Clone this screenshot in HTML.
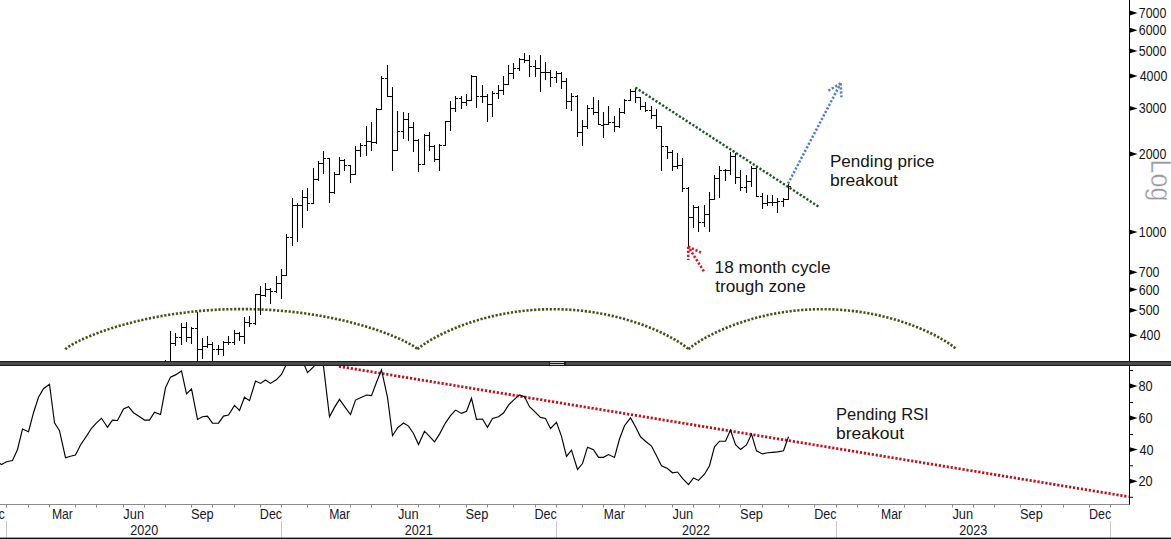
<!DOCTYPE html><html><head><meta charset="utf-8"><style>
html,body{margin:0;padding:0;background:#fff;}
body{width:1171px;height:539px;overflow:hidden;}
svg{display:block;font-family:"Liberation Sans",sans-serif;}
</style></head><body>
<svg width="1171" height="539" viewBox="0 0 1171 539">
<defs><clipPath id="cp"><rect x="0" y="0" width="1129" height="361"/></clipPath>
<clipPath id="cr"><rect x="0" y="366" width="1129" height="138.5"/></clipPath></defs>
<rect width="1171" height="539" fill="#fff"/>
<g clip-path="url(#cp)" fill="none" stroke="#474f12" stroke-width="2.6" stroke-dasharray="2.2 1.7">
<path d="M65.40 349.40L65.43 349.34L65.54 349.20L65.71 349.01L65.94 348.78L66.25 348.51L66.62 348.20L67.06 347.85L67.57 347.48L68.14 347.07L68.78 346.64L69.49 346.18L70.27 345.69L71.11 345.18L72.01 344.65L72.98 344.10L74.02 343.53L75.12 342.94L76.28 342.33L77.51 341.70L78.80 341.06L80.16 340.40L81.58 339.74L83.05 339.05L84.59 338.36L86.19 337.66L87.85 336.95L89.57 336.23L91.35 335.50L93.19 334.77L95.08 334.03L97.03 333.29L99.03 332.54L101.09 331.79L103.21 331.04L105.37 330.29L107.59 329.54L109.86 328.80L112.19 328.05L114.56 327.31L116.98 326.57L119.45 325.84L121.96 325.11L124.53 324.39L127.13 323.68L129.78 322.98L132.48 322.29L135.21 321.60L137.99 320.93L140.81 320.27L143.66 319.62L146.56 318.99L149.49 318.37L152.45 317.77L155.45 317.18L158.49 316.60L161.55 316.05L164.65 315.51L167.77 314.99L170.93 314.49L174.11 314.01L177.32 313.55L180.55 313.10L183.80 312.68L187.08 312.28L190.38 311.91L193.70 311.55L197.04 311.22L200.39 310.91L203.76 310.62L207.14 310.36L210.54 310.12L213.95 309.91L217.37 309.72L220.80 309.56L224.24 309.42L227.68 309.30L231.13 309.21L234.59 309.15L238.04 309.11L241.50 309.10L244.96 309.11L248.41 309.15L251.87 309.21L255.32 309.30L258.76 309.42L262.20 309.56L265.63 309.72L269.05 309.91L272.46 310.12L275.86 310.36L279.24 310.62L282.61 310.91L285.96 311.22L289.30 311.55L292.62 311.91L295.92 312.28L299.20 312.68L302.45 313.10L305.68 313.55L308.89 314.01L312.07 314.49L315.23 314.99L318.35 315.51L321.45 316.05L324.51 316.60L327.55 317.18L330.55 317.77L333.51 318.37L336.44 318.99L339.34 319.62L342.19 320.27L345.01 320.93L347.79 321.60L350.52 322.29L353.22 322.98L355.87 323.68L358.47 324.39L361.04 325.11L363.55 325.84L366.02 326.57L368.44 327.31L370.81 328.05L373.14 328.80L375.41 329.54L377.63 330.29L379.79 331.04L381.91 331.79L383.97 332.54L385.97 333.29L387.92 334.03L389.81 334.77L391.65 335.50L393.43 336.23L395.15 336.95L396.81 337.66L398.41 338.36L399.95 339.05L401.42 339.74L402.84 340.40L404.20 341.06L405.49 341.70L406.72 342.33L407.88 342.94L408.98 343.53L410.02 344.10L410.99 344.65L411.89 345.18L412.73 345.69L413.51 346.18L414.22 346.64L414.86 347.07L415.43 347.48L415.94 347.85L416.38 348.20L416.75 348.51L417.06 348.78L417.29 349.01L417.46 349.20L417.57 349.34L417.60 349.40"/>
<path d="M417.60 349.40L417.63 349.35L417.70 349.25L417.84 349.09L418.02 348.90L418.25 348.66L418.54 348.39L418.88 348.08L419.27 347.75L419.71 347.38L420.20 346.98L420.75 346.56L421.34 346.11L421.99 345.63L422.69 345.13L423.43 344.61L424.23 344.07L425.08 343.50L425.98 342.92L426.92 342.32L427.91 341.70L428.96 341.06L430.05 340.41L431.18 339.74L432.37 339.06L433.60 338.37L434.88 337.67L436.20 336.96L437.57 336.24L438.98 335.51L440.44 334.77L441.94 334.03L443.48 333.28L445.06 332.53L446.69 331.78L448.36 331.02L450.06 330.27L451.81 329.51L453.60 328.75L455.42 328.00L457.29 327.25L459.19 326.51L461.12 325.77L463.09 325.03L465.10 324.30L467.14 323.58L469.21 322.87L471.32 322.17L473.46 321.48L475.62 320.80L477.82 320.13L480.05 319.48L482.30 318.84L484.58 318.22L486.89 317.61L489.23 317.01L491.58 316.44L493.97 315.88L496.37 315.34L498.80 314.82L501.25 314.32L503.71 313.84L506.20 313.38L508.71 312.94L511.23 312.52L513.77 312.13L516.32 311.76L518.89 311.41L521.47 311.09L524.06 310.79L526.67 310.52L529.28 310.27L531.90 310.05L534.53 309.85L537.17 309.68L539.82 309.53L542.47 309.41L545.12 309.32L547.78 309.25L550.44 309.21L553.10 309.20L555.76 309.21L558.42 309.25L561.08 309.32L563.73 309.41L566.38 309.53L569.03 309.68L571.67 309.85L574.30 310.05L576.92 310.27L579.53 310.52L582.14 310.79L584.73 311.09L587.31 311.41L589.88 311.76L592.43 312.13L594.97 312.52L597.49 312.94L600.00 313.38L602.49 313.84L604.95 314.32L607.40 314.82L609.83 315.34L612.23 315.88L614.62 316.44L616.97 317.01L619.31 317.61L621.62 318.22L623.90 318.84L626.15 319.48L628.38 320.13L630.58 320.80L632.74 321.48L634.88 322.17L636.99 322.87L639.06 323.58L641.10 324.30L643.11 325.03L645.08 325.77L647.01 326.51L648.91 327.25L650.78 328.00L652.60 328.75L654.39 329.51L656.14 330.27L657.84 331.02L659.51 331.78L661.14 332.53L662.72 333.28L664.26 334.03L665.76 334.77L667.22 335.51L668.63 336.24L670.00 336.96L671.32 337.67L672.60 338.37L673.83 339.06L675.02 339.74L676.15 340.41L677.24 341.06L678.29 341.70L679.28 342.32L680.22 342.92L681.12 343.50L681.97 344.07L682.77 344.61L683.51 345.13L684.21 345.63L684.86 346.11L685.45 346.56L686.00 346.98L686.49 347.38L686.93 347.75L687.32 348.08L687.66 348.39L687.95 348.66L688.18 348.90L688.36 349.09L688.50 349.25L688.57 349.35L688.60 349.40"/>
<path d="M688.60 349.40L688.63 349.35L688.70 349.25L688.83 349.09L689.01 348.90L689.24 348.66L689.53 348.39L689.86 348.08L690.25 347.75L690.69 347.38L691.17 346.98L691.71 346.56L692.30 346.11L692.94 345.63L693.63 345.13L694.37 344.61L695.15 344.07L695.99 343.50L696.88 342.92L697.81 342.32L698.79 341.70L699.82 341.06L700.90 340.41L702.02 339.74L703.19 339.06L704.41 338.37L705.67 337.67L706.98 336.96L708.33 336.24L709.73 335.51L711.17 334.77L712.65 334.03L714.17 333.28L715.74 332.53L717.35 331.78L718.99 331.02L720.68 330.27L722.41 329.51L724.17 328.75L725.98 328.00L727.82 327.25L729.70 326.51L731.61 325.77L733.56 325.03L735.54 324.30L737.55 323.58L739.60 322.87L741.68 322.17L743.80 321.48L745.94 320.80L748.11 320.13L750.31 319.48L752.54 318.84L754.79 318.22L757.07 317.61L759.38 317.01L761.71 316.44L764.06 315.88L766.44 315.34L768.84 314.82L771.26 314.32L773.70 313.84L776.15 313.38L778.63 312.94L781.12 312.52L783.63 312.13L786.15 311.76L788.69 311.41L791.24 311.09L793.80 310.79L796.38 310.52L798.96 310.27L801.55 310.05L804.15 309.85L806.76 309.68L809.38 309.53L811.99 309.41L814.62 309.32L817.24 309.25L819.87 309.21L822.50 309.20L825.13 309.21L827.76 309.25L830.38 309.32L833.01 309.41L835.62 309.53L838.24 309.68L840.85 309.85L843.45 310.05L846.04 310.27L848.62 310.52L851.20 310.79L853.76 311.09L856.31 311.41L858.85 311.76L861.37 312.13L863.88 312.52L866.37 312.94L868.85 313.38L871.30 313.84L873.74 314.32L876.16 314.82L878.56 315.34L880.94 315.88L883.29 316.44L885.62 317.01L887.93 317.61L890.21 318.22L892.46 318.84L894.69 319.48L896.89 320.13L899.06 320.80L901.20 321.48L903.32 322.17L905.40 322.87L907.45 323.58L909.46 324.30L911.44 325.03L913.39 325.77L915.30 326.51L917.18 327.25L919.02 328.00L920.83 328.75L922.59 329.51L924.32 330.27L926.01 331.02L927.65 331.78L929.26 332.53L930.83 333.28L932.35 334.03L933.83 334.77L935.27 335.51L936.67 336.24L938.02 336.96L939.33 337.67L940.59 338.37L941.81 339.06L942.98 339.74L944.10 340.41L945.18 341.06L946.21 341.70L947.19 342.32L948.12 342.92L949.01 343.50L949.85 344.07L950.63 344.61L951.37 345.13L952.06 345.63L952.70 346.11L953.29 346.56L953.83 346.98L954.31 347.38L954.75 347.75L955.14 348.08L955.47 348.39L955.76 348.66L955.99 348.90L956.17 349.09L956.30 349.25L956.37 349.35L956.40 349.40"/>
</g>
<g clip-path="url(#cp)"><path d="M165.5 360V371M163 370.5H165M166 370.5H168M170.5 331V371M168 370.5H170M171 343.5H173M175.5 333V346M173 343.5H175M176 337.5H178M181.5 323V345M179 337.5H181M182 327.5H184M186.5 322V342M184 327.5H186M187 337.5H189M191.5 327V344M189 337.5H191M192 328.5H194M197.5 312V371M195 328.5H197M198 349.5H200M202.5 338V359M200 349.5H202M203 346.5H205M207.5 336V348M205 346.5H207M208 344.5H210M212.5 342V371M210 344.5H212M213 349.5H215M218.5 345V355M216 349.5H218M219 349.5H221M223.5 341V356M221 349.5H223M224 342.5H226M228.5 336V345M226 342.5H228M229 342.5H231M234.5 330V345M232 342.5H234M235 333.5H237M239.5 332V341M237 333.5H239M240 336.5H242M244.5 317V344M242 336.5H244M245 322.5H247M249.5 316V327M247 322.5H249M250 323.5H252M255.5 294V325M253 323.5H255M256 294.5H258M260.5 286V315M258 294.5H260M261 295.5H263M265.5 283V297M263 295.5H265M266 289.5H268M270.5 288V304M268 289.5H270M271 291.5H273M276.5 276V293M274 291.5H276M277 283.5H279M281.5 269V299M279 283.5H281M282 275.5H284M286.5 234V276M284 275.5H286M287 237.5H289M292.5 198V246M290 237.5H292M293 205.5H295M297.5 203V242M295 205.5H297M298 205.5H300M302.5 190V228M300 205.5H302M303 197.5H305M307.5 188V211M305 197.5H307M308 203.5H310M313.5 168V204M311 203.5H313M314 179.5H316M318.5 161V181M316 179.5H318M319 163.5H321M323.5 151V174M321 163.5H323M324 158.5H326M329.5 158V203M327 158.5H329M330 192.5H332M334.5 172V194M332 192.5H334M335 174.5H337M339.5 157V175M337 174.5H339M340 160.5H342M344.5 159V171M342 160.5H344M345 165.5H347M350.5 165V183M348 165.5H350M351 174.5H353M355.5 146V175M353 174.5H355M356 150.5H358M360.5 143V157M358 150.5H360M361 145.5H363M366.5 126V156M364 145.5H366M367 141.5H369M371.5 122V151M369 141.5H371M372 142.5H374M376.5 108V144M374 142.5H376M377 109.5H379M381.5 76V110M379 109.5H381M382 78.5H384M387.5 65V97M385 78.5H387M388 96.5H390M392.5 87V171M390 96.5H392M393 150.5H395M397.5 111V151M395 150.5H397M398 131.5H400M403.5 112V139M401 131.5H403M404 119.5H406M408.5 113V141M406 119.5H408M409 127.5H411M413.5 122V152M411 127.5H413M414 140.5H416M418.5 139V172M416 140.5H418M419 164.5H421M424.5 134V165M422 164.5H424M425 135.5H427M429.5 132V151M427 135.5H429M430 146.5H432M434.5 145V162M432 146.5H434M435 159.5H437M439.5 144V171M437 159.5H439M440 145.5H442M445.5 121V146M443 145.5H445M446 121.5H448M450.5 101V131M448 121.5H450M451 108.5H453M455.5 96V112M453 108.5H455M456 98.5H458M461.5 96V109M459 98.5H461M462 102.5H464M466.5 94V106M464 102.5H466M467 100.5H469M471.5 75V101M469 100.5H471M472 76.5H474M476.5 76V108M474 76.5H476M477 96.5H479M482.5 85V103M480 96.5H482M483 96.5H485M487.5 94V122M485 96.5H487M488 104.5H490M492.5 91V117M490 104.5H492M493 93.5H495M498.5 85V99M496 93.5H498M499 90.5H501M503.5 76V95M501 90.5H503M504 84.5H506M508.5 65V85M506 84.5H508M509 73.5H511M513.5 63V79M511 73.5H513M514 68.5H516M519.5 58V71M517 68.5H519M520 59.5H522M524.5 53V63M522 59.5H524M525 60.5H527M529.5 55V77M527 60.5H529M530 66.5H532M535.5 60V77M533 66.5H535M536 68.5H538M540.5 55V92M538 68.5H540M541 72.5H543M545.5 62V80M543 72.5H545M546 72.5H548M550.5 70V87M548 72.5H550M551 77.5H553M556.5 71V83M554 77.5H556M557 73.5H559M561.5 72V89M559 73.5H561M562 81.5H564M566.5 78V109M564 81.5H566M567 101.5H569M571.5 93V111M569 101.5H571M572 96.5H574M577.5 95V137M575 96.5H577M578 132.5H580M582.5 120V146M580 132.5H582M583 126.5H585M587.5 105V129M585 126.5H587M588 108.5H590M593.5 97V115M591 108.5H593M594 112.5H596M598.5 100V125M596 112.5H598M599 124.5H601M603.5 112V138M601 125.5H603M604 124.5H606M608.5 106V125M606 124.5H608M609 122.5H611M614.5 116V132M612 122.5H614M615 126.5H617M619.5 108V128M617 126.5H619M620 112.5H622M624.5 99V114M622 112.5H624M625 100.5H627M630.5 89V101M628 100.5H630M631 91.5H633M635.5 88V103M633 91.5H635M636 97.5H638M640.5 97V110M638 97.5H640M641 106.5H643M645.5 102V112M643 106.5H645M646 110.5H648M651.5 106V119M649 110.5H651M652 115.5H654M656.5 109V129M654 115.5H656M657 126.5H659M661.5 126V171M659 126.5H661M662 146.5H664M667.5 146V159M665 146.5H667M668 152.5H670M672.5 150V171M670 152.5H672M673 166.5H675M677.5 153V169M675 166.5H677M678 165.5H680M682.5 158V192M680 165.5H682M683 188.5H685M688.5 187V247M686 188.5H688M689 217.5H691M693.5 205V228M691 217.5H693M694 207.5H696M698.5 206V232M696 207.5H698M699 222.5H701M704.5 205V227M702 222.5H704M705 214.5H707M709.5 192V232M707 214.5H709M710 199.5H712M714.5 175V200M712 199.5H714M715 178.5H717M719.5 166V198M717 178.5H719M720 170.5H722M725.5 169V181M723 170.5H725M726 170.5H728M730.5 152V175M728 170.5H730M731 156.5H733M735.5 153V184M733 156.5H735M736 177.5H738M740.5 170V191M738 177.5H740M741 187.5H743M746.5 175V193M744 187.5H746M747 181.5H749M751.5 166V187M749 181.5H751M752 168.5H754M756.5 167V197M754 168.5H756M757 196.5H759M762.5 193V209M760 196.5H762M763 203.5H765M767.5 195V206M765 203.5H767M768 202.5H770M772.5 195V206M770 202.5H772M773 202.5H775M777.5 198V213M775 202.5H777M778 201.5H780M783.5 198V207M781 201.5H783M784 199.5H786M788.5 184V200M786 199.5H788M789 186.5H791" fill="none" stroke="#000" stroke-width="1.05"/></g>
<path d="M635.4 87.6L819.7 207.4" fill="none" stroke="#145a1c" stroke-width="2.4" stroke-dasharray="2.2 1.8"/>
<g fill="none" stroke="#4f7bd0" stroke-width="2.5" stroke-dasharray="2.2 1.8">
<path d="M788 183.7L840.6 83.4"/><path d="M840.6 83.4L828.4 90.6"/><path d="M840.6 83.4L841.4 97.3"/>
</g>
<g fill="none" stroke="#dc1424" stroke-width="2.6" stroke-dasharray="2.2 1.8">
<path d="M703.8 271.3L688.2 246.7"/><path d="M688.2 246.7L688.2 260"/><path d="M688.2 246.7L700.9 252.5"/>
</g>
<g font-size="16.5" fill="#141414">
<text transform="translate(829.96 167.00) scale(1.0364 1.05)">Pending price</text>
<text transform="translate(830.04 186.00) scale(1.0587 1.05)">breakout</text>
<text transform="translate(714.55 273.00) scale(1.0459 1.05)">18 month cycle</text>
<text transform="translate(715.20 291.60) scale(1.0391 1.05)">trough zone</text>
<text transform="translate(836.00 420.00) scale(1.0011 1.05)">Pending RSI</text>
<text transform="translate(835.94 438.90) scale(1.0635 1.05)">breakout</text>
</g>
<path d="M1129.5 0V361" stroke="#000" stroke-width="1"/>
<g fill="#000">
<path d="M1129 10.3 L1137.6 13 L1129 15.7 Z"/>
<path d="M1129 27.6 L1137.6 30.3 L1129 33 Z"/>
<path d="M1129 48.2 L1137.6 50.9 L1129 53.6 Z"/>
<path d="M1129 73.3 L1137.6 76 L1129 78.7 Z"/>
<path d="M1129 105.7 L1137.6 108.4 L1129 111.1 Z"/>
<path d="M1129 151.3 L1137.6 154 L1129 156.7 Z"/>
<path d="M1129 229.4 L1137.6 232.1 L1129 234.8 Z"/>
<path d="M1129 269.6 L1137.6 272.3 L1129 275 Z"/>
<path d="M1129 286.9 L1137.6 289.6 L1129 292.3 Z"/>
<path d="M1129 307.5 L1137.6 310.2 L1129 312.9 Z"/>
<path d="M1129 332.6 L1137.6 335.3 L1129 338 Z"/>
</g>
<g font-size="14" fill="#141414">
<text transform="translate(1138.81 17.97) scale(0.887 1)">7000</text>
<text transform="translate(1138.81 35.33) scale(0.887 1)">6000</text>
<text transform="translate(1138.81 55.86) scale(0.887 1)">5000</text>
<text transform="translate(1139.70 80.99) scale(0.887 1)">4000</text>
<text transform="translate(1138.81 113.38) scale(0.887 1)">3000</text>
<text transform="translate(1138.81 159.04) scale(0.887 1)">2000</text>
<text transform="translate(1138.81 237.10) scale(0.887 1)">1000</text>
<text transform="translate(1138.81 277.27) scale(0.887 1)">700</text>
<text transform="translate(1138.81 294.63) scale(0.887 1)">600</text>
<text transform="translate(1138.81 315.16) scale(0.887 1)">500</text>
<text transform="translate(1139.70 340.29) scale(0.887 1)">400</text>
</g>
<text transform="translate(1151.1 159.6) rotate(90) scale(0.84 1)" font-size="30" fill="#999" stroke="#fff" stroke-width="0.5">Log</text>
<rect x="0" y="361" width="1171" height="5" fill="#1c1c1c"/>
<rect x="0" y="362" width="549" height="3" fill="#4a4a4a"/><rect x="566" y="362" width="605" height="3" fill="#4a4a4a"/>
<rect x="550" y="362" width="14" height="1" fill="#c4c4c4"/><rect x="550" y="364" width="14" height="1" fill="#c4c4c4"/>
<g clip-path="url(#cr)">
<path d="M338.9 366.4L1128.7 496.7" fill="none" stroke="#c20f1c" stroke-width="2.8" stroke-dasharray="2.2 1.8"/>
<path d="M-3.5 461 L1.5 464.6 L6.5 461.7 L12.5 460.6 L17.5 449.5 L22.5 429 L28.5 431.7 L33.5 412.7 L38.5 397.2 L43.5 388.7 L49.5 384.3 L54.5 422.8 L59.5 430.6 L65.5 457.7 L70.5 456.2 L75.5 455 L80.5 445 L86.5 436.1 L91.5 428.3 L96.5 422.8 L101.5 418.3 L107.5 427.2 L112.5 420.1 L117.5 420.5 L123.5 409 L128.5 406.7 L133.5 412.7 L138.5 416.1 L144.5 420.1 L149.5 420.1 L154.5 412.1 L160.5 414.5 L165.5 387.8 L170.5 377.1 L175.5 374.9 L181.5 370.9 L186.5 393.8 L191.5 388.9 L197.5 419.4 L202.5 416.8 L207.5 416.1 L212.5 423.2 L218.5 423.2 L223.5 416.1 L228.5 415 L234.5 405.4 L239.5 410.5 L244.5 397.2 L249.5 400.7 L255.5 381.1 L260.5 383.4 L265.5 380 L270.5 383.4 L276.5 379.6 L281.5 374.5 L286.5 364 L292.5 358 L297.5 357 L302.5 360.5 L307.5 372.6 L313.5 366.8 L318.5 360 L323.5 366.3 L329.5 416.8 L334.5 407.4 L339.5 399.4 L344.5 406.3 L350.5 414.5 L355.5 400.1 L360.5 397.8 L366.5 395 L371.5 395.6 L376.5 382.3 L381.5 370 L387.5 397.4 L392.5 435.7 L397.5 427.9 L403.5 423 L408.5 426.1 L413.5 433.5 L418.5 444.6 L424.5 431.2 L429.5 436.4 L434.5 441.9 L439.5 434.1 L445.5 422.8 L450.5 415.7 L455.5 410.1 L461.5 413.4 L466.5 411.2 L471.5 398.3 L476.5 419.4 L482.5 419 L487.5 427.4 L492.5 418.5 L498.5 416.7 L503.5 413 L508.5 405.2 L513.5 400.1 L519.5 394.9 L524.5 396.7 L529.5 406.7 L535.5 412.3 L540.5 417.4 L545.5 418.5 L550.5 428.5 L556.5 422.3 L561.5 436.3 L566.5 456.4 L571.5 450.1 L577.5 469.5 L582.5 463.5 L587.5 447.2 L593.5 449.7 L598.5 457.3 L603.5 457.3 L608.5 454.6 L614.5 457.5 L619.5 439 L624.5 425.7 L630.5 417.9 L635.5 426.8 L640.5 436.8 L645.5 441.2 L651.5 446.1 L656.5 455.7 L661.5 465.7 L667.5 468.6 L672.5 472.8 L677.5 472 L682.5 478.4 L688.5 484.6 L693.5 478 L698.5 480.4 L704.5 474.2 L709.5 465.7 L714.5 446.8 L719.5 441.2 L725.5 441.2 L730.5 430.1 L735.5 444.6 L740.5 449.5 L746.5 445 L751.5 434.1 L756.5 450.8 L762.5 453.9 L767.5 452.8 L772.5 452.4 L777.5 451.9 L783.5 450.8 L788.5 436.8" fill="none" stroke="#000" stroke-width="1.15"/>
</g>
<path d="M1129.5 366V505" stroke="#000" stroke-width="1"/>
<path d="M1129 370.5H1133" stroke="#000" stroke-width="1"/>
<path d="M1129 402.5H1133" stroke="#000" stroke-width="1"/>
<path d="M1129 434.5H1133" stroke="#000" stroke-width="1"/>
<path d="M1129 465.8H1133" stroke="#000" stroke-width="1"/>
<path d="M1129 497.3H1133" stroke="#000" stroke-width="1"/>
<g fill="#000">
<path d="M1129 383.3 L1137.6 386 L1129 388.7 Z"/>
<path d="M1129 415.3 L1137.6 418 L1129 420.7 Z"/>
<path d="M1129 446.9 L1137.6 449.6 L1129 452.3 Z"/>
<path d="M1129 478.6 L1137.6 481.3 L1129 484 Z"/>
</g><g font-size="14" fill="#141414">
<text transform="translate(1138.49 391.00) scale(0.910 1)">80</text>
<text transform="translate(1138.49 423.00) scale(0.910 1)">60</text>
<text transform="translate(1139.40 454.60) scale(0.910 1)">40</text>
<text transform="translate(1138.49 486.30) scale(0.910 1)">20</text>
</g>
<path d="M0 504.5H1129.5" stroke="#8a8a8a" stroke-width="1"/>
<path d="M-19.5 504.5V507.5M6.5 504.5V507.5M28.5 504.5V507.5M49.5 504.5V507.5M75.5 504.5V507.5M96.5 504.5V507.5M123.5 504.5V507.5M144.5 504.5V507.5M165.5 504.5V507.5M191.5 504.5V507.5M212.5 504.5V507.5M234.5 504.5V507.5M260.5 504.5V507.5M281.5 504.5V507.5M307.5 504.5V507.5M329.5 504.5V507.5M350.5 504.5V507.5M371.5 504.5V507.5M397.5 504.5V507.5M418.5 504.5V507.5M439.5 504.5V507.5M466.5 504.5V507.5M487.5 504.5V507.5M513.5 504.5V507.5M535.5 504.5V507.5M556.5 504.5V507.5M582.5 504.5V507.5M603.5 504.5V507.5M624.5 504.5V507.5M645.5 504.5V507.5M672.5 504.5V507.5M693.5 504.5V507.5M719.5 504.5V507.5M740.5 504.5V507.5M762.5 504.5V507.5M788.5 504.5V507.5M814.5 504.5V507.5M836.5 504.5V507.5M857.5 504.5V507.5M878.5 504.5V507.5M904.5 504.5V507.5M925.5 504.5V507.5M952.5 504.5V507.5M973.5 504.5V507.5M994.5 504.5V507.5M1020.5 504.5V507.5M1041.5 504.5V507.5M1063.5 504.5V507.5M1089.5 504.5V507.5M1110.5 504.5V507.5" stroke="#8a8a8a" stroke-width="1"/>
<path d="M6.5 521V538M281.5 521V538M556.5 521V538M836.5 521V538M1110.5 521V538" stroke="#c8c8c8" stroke-width="1"/>
<g font-size="14" fill="#16162a" text-anchor="middle">
<text transform="translate(-6.26 519) scale(0.896 1)">Dec</text>
<text transform="translate(62.39 519) scale(0.870 1)">Mar</text>
<text transform="translate(133.68 519) scale(0.918 1)">Jun</text>
<text transform="translate(202.33 519) scale(0.920 1)">Sep</text>
<text transform="translate(270.98 519) scale(0.896 1)">Dec</text>
<text transform="translate(339.63 519) scale(0.870 1)">Mar</text>
<text transform="translate(408.28 519) scale(0.918 1)">Jun</text>
<text transform="translate(476.93 519) scale(0.920 1)">Sep</text>
<text transform="translate(545.58 519) scale(0.896 1)">Dec</text>
<text transform="translate(614.23 519) scale(0.870 1)">Mar</text>
<text transform="translate(682.88 519) scale(0.918 1)">Jun</text>
<text transform="translate(751.53 519) scale(0.920 1)">Sep</text>
<text transform="translate(825.46 519) scale(0.896 1)">Dec</text>
<text transform="translate(891.47 519) scale(0.870 1)">Mar</text>
<text transform="translate(962.76 519) scale(0.918 1)">Jun</text>
<text transform="translate(1031.41 519) scale(0.920 1)">Sep</text>
<text transform="translate(1100.06 519) scale(0.896 1)">Dec</text>
<text transform="translate(144.24 534.8) scale(0.903 1)">2020</text>
<text transform="translate(418.84 534.8) scale(0.903 1)">2021</text>
<text transform="translate(696.08 534.8) scale(0.903 1)">2022</text>
<text transform="translate(973.32 534.8) scale(0.903 1)">2023</text>
</g>
<rect x="0" y="537.6" width="1171" height="1.4" fill="#111"/>
</svg></body></html>
